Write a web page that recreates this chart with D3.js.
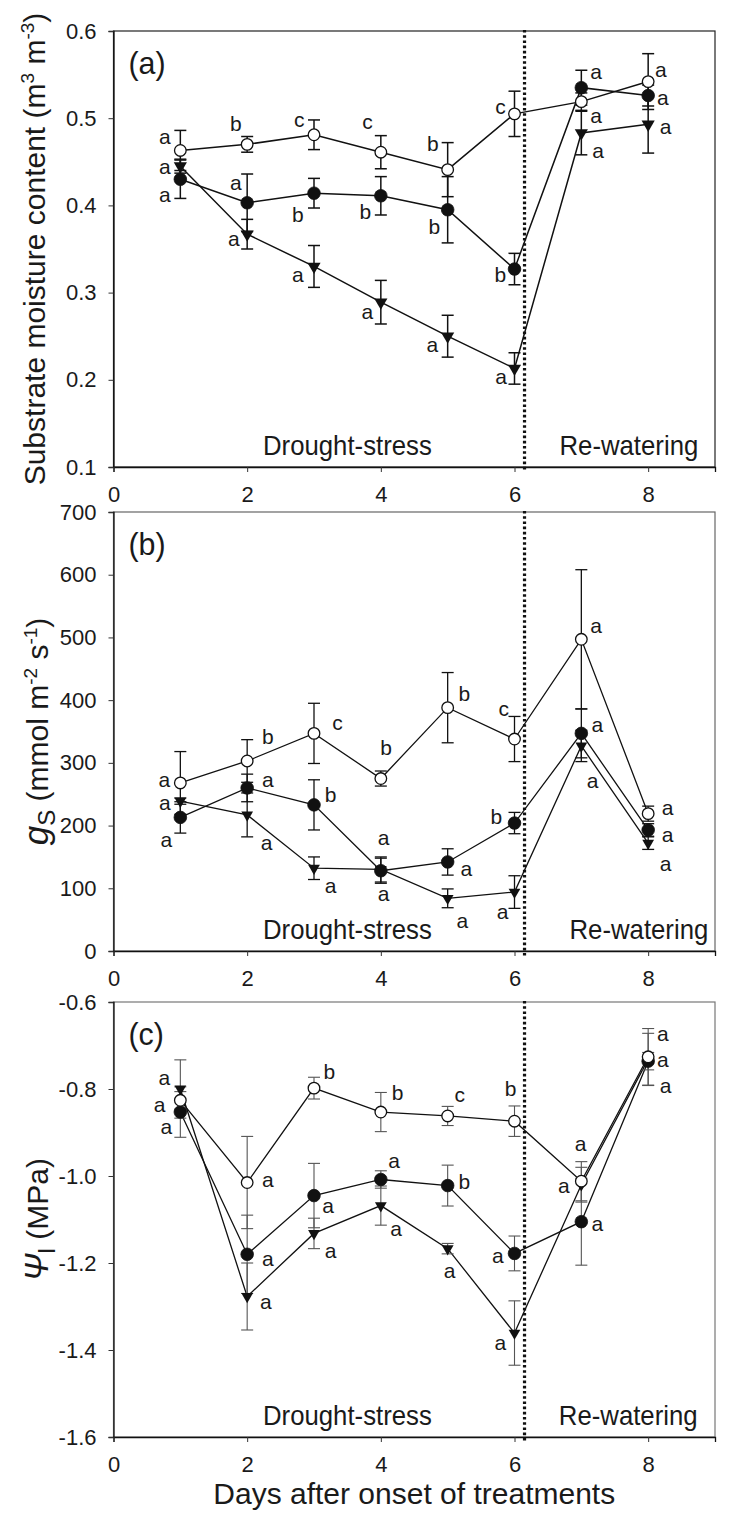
<!DOCTYPE html>
<html>
<head>
<meta charset="utf-8">
<script src="https://cdn.jsdelivr.net/npm/d3@7"></script>
<style>
  html, body { margin: 0; padding: 0; background: #fff; }
  svg { display: block; font-family: "Liberation Sans", Arial, sans-serif; }
</style>
</head>
<body>
<svg id="chart" width="729" height="1519"></svg>
<script>
// ---------------- DATA ----------------
const days = [1, 2, 3, 4, 5, 6, 7, 8];
const xTicks = [0, 2, 4, 6, 8];
const phaseBoundary = 6.15;
const phaseLabels = ["Drought-stress", "Re-watering"];

// (a) Substrate moisture content
const smcTicks = [0.1, 0.2, 0.3, 0.4, 0.5, 0.6];
const smcOpen = [0.463, 0.470, 0.481, 0.461, 0.441, 0.505, 0.519, 0.542];
const smcOpenErr = [0.023, 0.009, 0.017, 0.019, 0.031, 0.026, 0.010, 0.032];
const smcFilled = [0.430, 0.403, 0.414, 0.411, 0.395, 0.327, 0.535, 0.526];
const smcFilledErr = [0.022, 0.033, 0.017, 0.022, 0.038, 0.018, 0.020, 0.012];
const smcTri = [0.445, 0.367, 0.330, 0.289, 0.250, 0.213, 0.483, 0.493];
const smcTriErr = [0.008, 0.017, 0.024, 0.025, 0.024, 0.018, 0.025, 0.033];
const smcLetters = [
  [0.77, 0.479, "a"], [1.83, 0.494, "b"], [2.78, 0.498, "c"], [3.80, 0.496, "c"],
  [4.78, 0.471, "b"], [5.79, 0.513, "c"], [7.22, 0.503, "a"], [8.19, 0.556, "a"],
  [0.77, 0.412, "a"], [1.83, 0.426, "a"], [2.76, 0.389, "b"], [3.77, 0.393, "b"],
  [4.80, 0.376, "b"], [5.79, 0.321, "b"], [7.22, 0.553, "a"], [8.22, 0.524, "a"],
  [0.77, 0.445, "a"], [1.80, 0.362, "a"], [2.76, 0.321, "a"], [3.80, 0.278, "a"],
  [4.77, 0.240, "a"], [5.80, 0.204, "a"], [7.25, 0.463, "a"], [8.26, 0.490, "a"]
];

// (b) Stomatal conductance gs
const gsTicks = [0, 100, 200, 300, 400, 500, 600, 700];
const gsOpen = [268, 303, 347, 275, 388, 338, 497, 219];
const gsOpenErr = [50, 34, 48, 12, 56, 36, 111, 12];
const gsFilled = [213, 260, 233, 128, 142, 204, 347, 193];
const gsFilledErr = [25, 22, 40, 20, 21, 17, 39, 10];
const gsTri = [239, 217, 132, 130, 84, 94, 327, 172];
const gsTriErr = [5, 35, 18, 20, 15, 26, 25, 10];
const gsLetters = [
  [0.76, 273, "a"], [2.31, 342, "b"], [3.35, 364, "c"], [4.08, 324, "b"],
  [5.25, 410, "b"], [5.84, 386, "c"], [7.22, 519, "a"], [8.29, 228, "a"],
  [0.79, 177, "a"], [2.31, 274, "a"], [3.25, 250, "b"], [4.04, 181, "a"],
  [5.28, 131, "a"], [5.73, 215, "b"], [7.24, 361, "a"], [8.29, 186, "a"],
  [0.77, 236, "a"], [2.29, 172, "a"], [3.25, 105, "a"], [4.04, 92, "a"],
  [5.22, 49, "a"], [5.82, 62, "a"], [7.17, 271, "a"], [8.26, 140, "a"]
];

// (c) Leaf water potential
const lwpTicks = [-1.6, -1.4, -1.2, -1.0, -0.8, -0.6];
const lwpOpen = [-0.826, -1.015, -0.798, -0.853, -0.862, -0.874, -1.012, -0.726];
const lwpOpenErr = [0.020, 0.106, 0.025, 0.045, 0.022, 0.035, 0.045, 0.065];
const lwpFilled = [-0.853, -1.180, -1.045, -1.008, -1.022, -1.178, -1.105, -0.736];
const lwpFilledErr = [0.058, 0.090, 0.074, 0.020, 0.047, 0.040, 0.100, 0.020];
const lwpTri = [-0.800, -1.277, -1.132, -1.068, -1.167, -1.361, -1.020, -0.732];
const lwpTriErr = [0.067, 0.077, 0.035, 0.045, 0.012, 0.074, 0.040, 0.060];
const lwpLetters = [
  [0.69, -0.836, "a"], [2.31, -1.008, "a"], [3.23, -0.761, "b"], [4.25, -0.808, "b"],
  [5.18, -0.814, "c"], [5.94, -0.800, "b"], [6.99, -0.926, "a"], [8.22, -0.673, "a"],
  [0.79, -0.886, "a"], [2.31, -1.190, "a"], [3.21, -1.068, "a"], [4.20, -0.965, "a"],
  [5.25, -1.012, "b"], [5.75, -1.182, "a"], [7.24, -1.110, "a"], [8.22, -0.733, "a"],
  [0.76, -0.775, "a"], [2.28, -1.288, "a"], [3.25, -1.172, "a"], [4.23, -1.122, "a"],
  [5.03, -1.217, "a"], [5.79, -1.382, "a"], [6.74, -1.023, "a"], [8.26, -0.792, "a"]
];

// ---------------- LAYOUT ----------------
const svg = d3.select("#chart");
const left = 113.5, right = 715;
const x = d3.scaleLinear().domain([0, 9]).range([left, right]);
const textColor = "#1a1a1a";
const hyphen = f => d => f(d).replace("\u2212", "-");

const panels = [
  { tag: "(a)", top: 31, bottom: 467, domain: [0.1, 0.6], ticks: smcTicks, fmt: hyphen(d3.format(".1f")),
    series: [[smcTri, smcTriErr, "tri"], [smcFilled, smcFilledErr, "filled"], [smcOpen, smcOpenErr, "open"]],
    letters: smcLetters, frame: "#222", errColor: "#111", errW: 1.5, lineW: 1.5, triSize: 75, reX: 8.75,
    title: "smc" },
  { tag: "(b)", top: 512, bottom: 951, domain: [0, 700], ticks: gsTicks, fmt: hyphen(d3.format("d")),
    series: [[gsTri, gsTriErr, "tri"], [gsFilled, gsFilledErr, "filled"], [gsOpen, gsOpenErr, "open"]],
    letters: gsLetters, frame: "#666", errColor: "#111", errW: 1.3, lineW: 1.3, triSize: 60, reX: 8.9,
    title: "gs" },
  { tag: "(c)", top: 1002, bottom: 1437, domain: [-1.6, -0.6], ticks: lwpTicks, fmt: hyphen(d3.format(".1f")),
    series: [[lwpTri, lwpTriErr, "tri"], [lwpFilled, lwpFilledErr, "filled"], [lwpOpen, lwpOpenErr, "open"]],
    letters: lwpLetters, frame: "#777", errColor: "#555", errW: 1.1, lineW: 1.3, triSize: 60, reX: 8.74,
    title: "lwp" }
];

panels.forEach(p => {
  const y = d3.scaleLinear().domain(p.domain).range([p.bottom, p.top]);
  const g = svg.append("g");

  // frame
  g.append("rect")
    .attr("x", left).attr("y", p.top)
    .attr("width", right - left).attr("height", p.bottom - p.top)
    .attr("fill", "none").attr("stroke", p.frame).attr("stroke-width", 1.2);

  // axes
  const yAxis = d3.axisLeft(y).tickValues(p.ticks).tickFormat(p.fmt).tickSize(5).tickPadding(12);
  const ya = g.append("g").attr("transform", `translate(${left},0)`).call(yAxis);
  const xAxis = d3.axisBottom(x).tickValues(xTicks).tickFormat(d3.format("d")).tickSize(5).tickPadding(14);
  const xa = g.append("g").attr("transform", `translate(0,${p.bottom})`).call(xAxis);
  [ya, xa].forEach(a => {
    a.select(".domain").attr("stroke", "#111").attr("stroke-width", 1.3);
    a.selectAll(".tick line").attr("stroke", "#333").attr("stroke-width", 1);
    a.selectAll(".tick text").attr("fill", textColor).style("font-size", "22px")
      .style("font-family", "'Liberation Sans', Arial, sans-serif");
  });

  // dotted phase boundary
  g.append("line")
    .attr("x1", x(phaseBoundary)).attr("x2", x(phaseBoundary))
    .attr("y1", p.top - 1).attr("y2", p.bottom + 5)
    .attr("stroke", "#111").attr("stroke-width", 3.2)
    .attr("stroke-dasharray", "2.6,2.6");

  // phase labels (slightly condensed, as in the original)
  g.append("text")
    .attr("transform", `translate(${x(3.5)},${p.bottom - 12}) scale(0.92,1)`)
    .attr("text-anchor", "middle").attr("fill", textColor)
    .style("font-size", "28px").text(phaseLabels[0]);
  g.append("text")
    .attr("transform", `translate(${x(p.reX)},${p.bottom - 12}) scale(0.92,1)`)
    .attr("text-anchor", "end").attr("fill", textColor)
    .style("font-size", "28px").text(phaseLabels[1]);

  // panel tag
  g.append("text")
    .attr("transform", `translate(${left + 15},${p.top + 43}) scale(0.95,1)`)
    .attr("fill", textColor).style("font-size", "32px").text(p.tag);

  // lines
  const line = d3.line().x((d, i) => x(days[i])).y(d => y(d));
  p.series.forEach(([vals]) => {
    g.append("path").datum(vals).attr("d", line)
      .attr("fill", "none").attr("stroke", "#111").attr("stroke-width", p.lineW);
  });

  // error bars
  const cap = 6;
  p.series.forEach(([vals, errs]) => {
    const eg = g.append("g").attr("stroke", p.errColor).attr("stroke-width", p.errW).attr("fill", "none");
    vals.forEach((v, i) => {
      const cx = x(days[i]);
      const y1 = y(v + errs[i]), y2 = y(v - errs[i]);
      eg.append("line").attr("x1", cx).attr("x2", cx).attr("y1", y1).attr("y2", y2);
      eg.append("line").attr("x1", cx - cap).attr("x2", cx + cap).attr("y1", y1).attr("y2", y1);
      eg.append("line").attr("x1", cx - cap).attr("x2", cx + cap).attr("y1", y2).attr("y2", y2);
    });
  });

  // markers
  p.series.forEach(([vals, , kind]) => {
    const mg = g.append("g");
    vals.forEach((v, i) => {
      const cx = x(days[i]), cy = y(v);
      if (kind === "open") {
        mg.append("circle").attr("cx", cx).attr("cy", cy).attr("r", 5.8)
          .attr("fill", "#fff").attr("stroke", "#111").attr("stroke-width", 1.3);
      } else if (kind === "filled") {
        mg.append("circle").attr("cx", cx).attr("cy", cy).attr("r", 6.3)
          .attr("fill", "#111").attr("stroke", "#111").attr("stroke-width", 0.8);
      } else {
        mg.append("path").attr("d", d3.symbol().type(d3.symbolTriangle).size(p.triSize)())
          .attr("transform", `translate(${cx},${cy}) rotate(180)`)
          .attr("fill", "#111");
      }
    });
  });

  // significance letters
  g.append("g").selectAll("text").data(p.letters).join("text")
    .attr("x", d => x(d[0])).attr("y", d => y(d[1]))
    .attr("dy", "0.35em").attr("text-anchor", "middle")
    .attr("fill", textColor).style("font-size", "21px")
    .text(d => d[2]);

  // y-axis title
  const cy = (p.top + p.bottom) / 2;
  const t = g.append("text")
    .attr("transform", `translate(${p.title === "smc" ? 45 : 48},${cy}) rotate(-90)`)
    .attr("text-anchor", "middle").attr("fill", textColor).style("font-size", "30px");
  if (p.title === "smc") {
    t.append("tspan").text("Substrate moisture content (m");
    t.append("tspan").attr("dy", -11).style("font-size", "19px").text("3");
    t.append("tspan").attr("dy", 11).text(" m");
    t.append("tspan").attr("dy", -11).style("font-size", "19px").text("-3");
    t.append("tspan").attr("dy", 11).text(")");
  } else if (p.title === "gs") {
    t.append("tspan").style("font-style", "italic").style("font-size", "35px").text("g");
    t.append("tspan").attr("dy", 7).style("font-size", "24px").text("S");
    t.append("tspan").attr("dy", -7).text(" (mmol m");
    t.append("tspan").attr("dy", -11).style("font-size", "19px").text("-2");
    t.append("tspan").attr("dy", 11).text(" s");
    t.append("tspan").attr("dy", -11).style("font-size", "19px").text("-1");
    t.append("tspan").attr("dy", 11).text(")");
  } else {
    t.append("tspan").style("font-style", "italic").style("font-size", "33px").text("Ψ");
    t.append("tspan").attr("dy", 7).style("font-size", "24px").text("l");
    t.append("tspan").attr("dy", -7).text(" (MPa)");
  }
});

// x-axis title
svg.append("text").attr("x", (left + right) / 2).attr("y", 1504)
  .attr("text-anchor", "middle").attr("fill", textColor)
  .style("font-size", "30px").text("Days after onset of treatments");
</script>
</body>
</html>
